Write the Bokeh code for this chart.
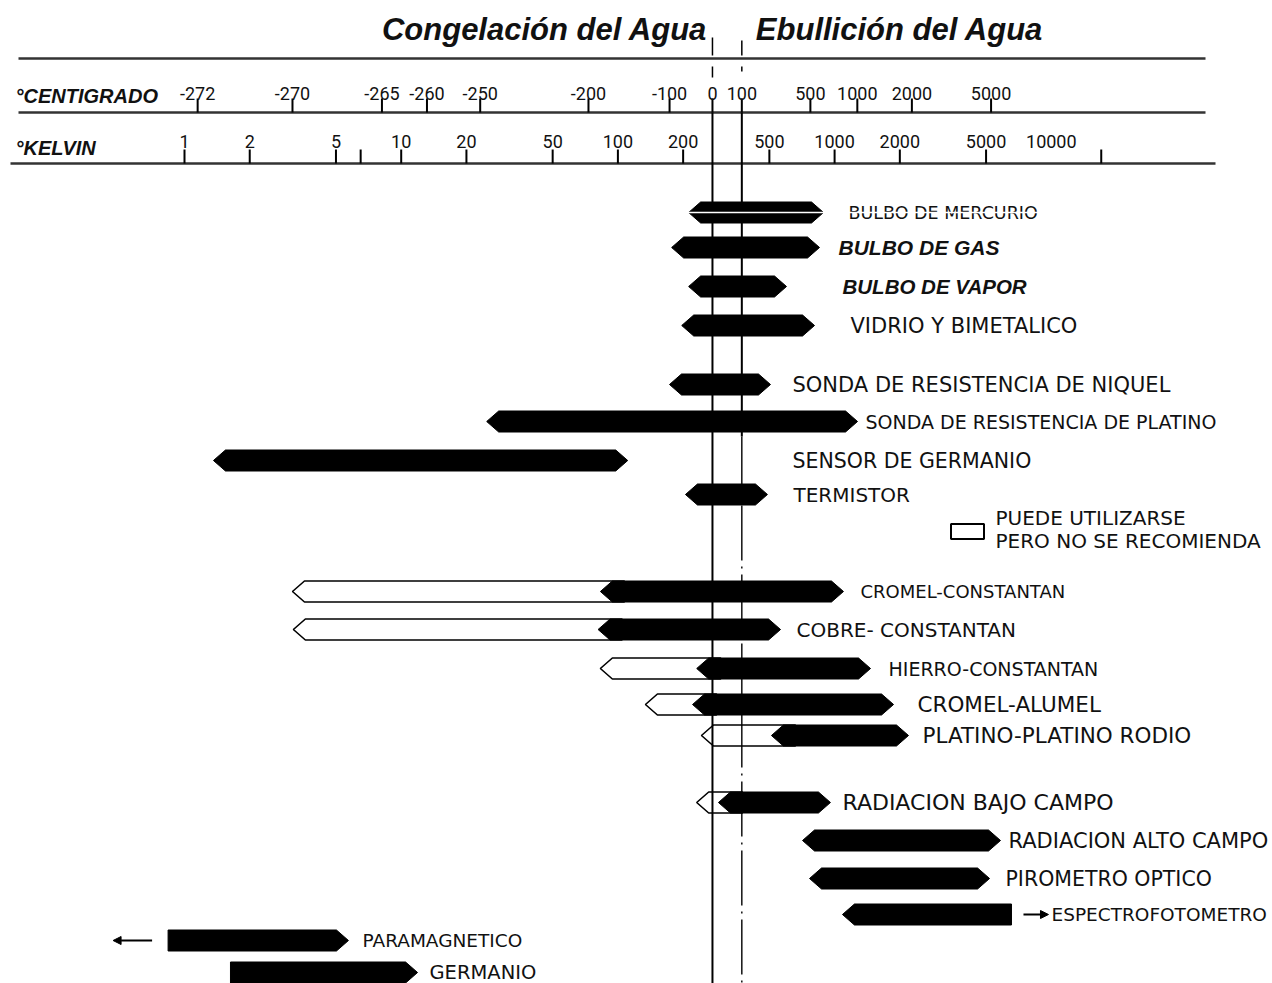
import math
from bokeh.plotting import figure
from bokeh.models import Range1d, Arrow, NormalHead, ColumnDataSource
from bokeh.core.properties import value
from bokeh.embed import file_html
from bokeh.resources import INLINE

# ---------------- data ----------------
titles = ["Congelación del Agua", "Ebullición del Agua"]
scale_names = ["°CENTIGRADO", "°KELVIN"]

ABS_ZERO = 273.15
freezing_C = 0
boiling_C = 100

celsius_ticks = [-272, -270, -265, -260, -250, -200, -100, 0, 100, 500, 1000, 2000, 5000]
kelvin_ticks = [1, 2, 5, 6.5, 10, 20, 50, 100, 200, 500, 1000, 2000, 5000, 17000]
kelvin_labels = [1, 2, 5, 10, 20, 50, 100, 200, 500, 1000, 2000, 5000, 10000]

instruments = [
    "BULBO DE MERCURIO", "BULBO DE GAS", "BULBO DE VAPOR", "VIDRIO Y BIMETALICO",
    "SONDA DE RESISTENCIA DE NIQUEL", "SONDA DE RESISTENCIA DE PLATINO",
    "SENSOR DE GERMANIO", "TERMISTOR",
    "CROMEL-CONSTANTAN", "COBRE- CONSTANTAN", "HIERRO-CONSTANTAN", "CROMEL-ALUMEL",
    "PLATINO-PLATINO RODIO",
    "RADIACION BAJO CAMPO", "RADIACION ALTO CAMPO", "PIROMETRO OPTICO", "ESPECTROFOTOMETRO",
    "PARAMAGNETICO", "GERMANIO",
]
# recommended range (black), Kelvin
rec_low_K = [212, 177, 212, 197, 173, 24.8, 1.36, 205, 83, 81, 231, 221, 511, 291, 711, 766, 1087, 0.84, 1.63]
rec_high_K = [889, 852, 600, 808, 506, 1276, 111, 490, 1099, 563, 1465, 1871, 2193, 957, 5830, 5190, 6550, 5.71, 11.9]
# usable but not recommended (hollow) lower limit, Kelvin
usable_low_K = [None, None, None, None, None, None, None, None,
                3.15, 3.18, 83, 134, 243, 231, None, None, None, None, None]
legend_text = ["PUEDE UTILIZARSE", "PERO NO SE RECOMIENDA"]

# ---------------- layout / style ----------------
PX0, PX_DEC = 184.0, 216.7          # reference pixel of 1 K, pixels per decade
W, HT = 1272, 983


def kx(px):
    return 10 ** ((px - PX0) / PX_DEC)


def shift(k, dpx):
    return k * 10 ** (dpx / PX_DEC)


row_y = [212, 247, 286, 325, 384, 421, 460, 494, 591, 629, 668, 704, 735,
         802, 840, 878, 914, 940, 972]
label_px = [848, 838, 842, 850, 792, 865, 792, 793, 860, 796, 888, 917, 922,
            842, 1008, 1005, 1051, 362, 429]
label_size = [17.5, 21, 20.5, 21, 21, 19, 20.5, 20, 18, 20, 19, 21.5, 21.5,
              22, 21, 20.5, 18.5, 18.5, 19.5]
label_bold = [False, True, True] + [False] * 16
bar_shape = ["<>"] * 16 + ["<]", "[>", "[>"]
TIP = 12
H = 10.5
DIN = "DejaVu Sans"
HELV = "Liberation Sans"
NUM = "Roboto"

p = figure(width=W, height=HT, x_axis_type="log",
           x_range=Range1d(kx(0), kx(W)), y_range=Range1d(HT, 0),
           x_axis_location=None, y_axis_location=None,
           output_backend="svg", toolbar_location=None, min_border=0)
p.grid.visible = False
p.outline_line_color = None
p.background_fill_color = "white"
p.border_fill_color = "white"

# titles
freeze_K = freezing_C + ABS_ZERO
boil_K = boiling_C + ABS_ZERO
p.text(x=[shift(freeze_K, -5)], y=[29], text=[titles[0]], text_align="right",
       text_baseline="middle", text_font=value(HELV), text_font_style="bold italic",
       text_font_size=value("31px"), text_color="#111111")
p.text(x=[shift(boil_K, 14)], y=[29], text=[titles[1]], text_align="left",
       text_baseline="middle", text_font=value(HELV), text_font_style="bold italic",
       text_font_size=value("31px"), text_color="#111111")

# scale header lines
p.segment(x0=[kx(18), kx(18), kx(10)], y0=[58, 112, 163],
          x1=[kx(1205), kx(1205), kx(1215)], y1=[58, 112, 163],
          line_width=2.5, line_color="#333333")

# scale names
p.text(x=[kx(15), kx(15)], y=[95, 147], text=scale_names, text_align="left",
       text_baseline="middle", text_font=value(HELV), text_font_style="bold italic",
       text_font_size=value("20px"), text_color="#111111")

# celsius ticks
ck = [c + ABS_ZERO for c in celsius_ticks]
p.segment(x0=ck, y0=[112] * len(ck), x1=ck, y1=[98] * len(ck), line_width=2, line_color="black")
p.text(x=ck, y=[93] * len(ck), text=[str(c) for c in celsius_ticks], text_align="center",
       text_baseline="middle", text_font=value(NUM), text_font_size=value("18px"),
       text_color="#111111")

# kelvin ticks
p.segment(x0=kelvin_ticks, y0=[163] * len(kelvin_ticks), x1=kelvin_ticks,
          y1=[149] * len(kelvin_ticks), line_width=2, line_color="black")
p.text(x=kelvin_labels, y=[141] * len(kelvin_labels), text=[str(k) for k in kelvin_labels],
       text_align="center", text_baseline="middle", text_font=value(NUM),
       text_font_size=value("18px"), text_color="#111111")

# water reference lines
p.segment(x0=[freeze_K, freeze_K], y0=[37, 66], x1=[freeze_K, freeze_K], y1=[55, 77],
          line_width=1.5, line_color="black")
p.segment(x0=[boil_K, boil_K], y0=[40, 66], x1=[boil_K, boil_K], y1=[55, 71],
          line_width=1.5, line_color="black")
p.line(x=[freeze_K, freeze_K], y=[112, HT], line_width=2, line_color="black")
p.line(x=[boil_K, boil_K], y=[112, 436], line_width=2, line_color="black")
p.line(x=[boil_K, boil_K], y=[436, HT], line_width=1.4, line_color="black",
       line_dash="55 6 2 6")

# hollow (usable) bars
hx, hy = [], []
for i, u in enumerate(usable_low_K):
    if u is None:
        continue
    y = row_y[i]
    hi = shift(rec_low_K[i], 2 * TIP)
    hx.append([u, shift(u, TIP), hi, hi, shift(u, TIP)])
    hy.append([y, y - H, y - H, y + H, y + H])
p.patches(hx, hy, fill_color=None, line_color="black", line_width=1.6)


def bar(lo, hi, y, shape):
    xs, ys = [], []
    if shape[0] == "<":
        xs += [lo, shift(lo, TIP)]
        ys += [y, y - H]
    else:
        xs += [lo, lo]
        ys += [y + H, y - H]
    if shape[1] == ">":
        xs += [shift(hi, -TIP), hi, shift(hi, -TIP)]
        ys += [y - H, y, y + H]
    else:
        xs += [hi, hi]
        ys += [y - H, y + H]
    if shape[0] == "<":
        xs += [shift(lo, TIP)]
        ys += [y + H]
    return xs, ys


bx, by = [], []
for i in range(len(instruments)):
    xs, ys = bar(rec_low_K[i], rec_high_K[i], row_y[i], bar_shape[i])
    bx.append(xs)
    by.append(ys)
p.patches(bx, by, fill_color="black", line_color="black", line_width=1)

# arrows for ranges extending beyond
head = dict(size=8, fill_color="black", line_color="black")
p.add_layout(Arrow(end=NormalHead(**head), x_start=shift(rec_high_K[16], 12), y_start=row_y[16],
                   x_end=shift(rec_high_K[16], 37), y_end=row_y[16], line_width=2,
                   line_color="black"))
p.add_layout(Arrow(end=NormalHead(**head), x_start=shift(rec_low_K[17], -16), y_start=row_y[17],
                   x_end=shift(rec_low_K[17], -55), y_end=row_y[17], line_width=2,
                   line_color="black"))

# labels
for bold in (False, True):
    idx = [i for i in range(len(instruments)) if label_bold[i] == bold]
    src = ColumnDataSource(dict(
        x=[kx(label_px[i]) for i in idx],
        y=[row_y[i] for i in idx],
        t=[instruments[i] for i in idx],
        s=["%gpx" % label_size[i] for i in idx],
    ))
    p.text(x="x", y="y", text="t", source=src, text_align="left", text_baseline="middle",
           text_font=value(HELV if bold else DIN),
           text_font_style="bold italic" if bold else "normal",
           text_font_size="s", text_color="#111111")

# scan streak across the mercury row
p.segment(x0=[shift(rec_low_K[0], -2)], y0=[row_y[0]], x1=[kx(1045)], y1=[row_y[0]],
          line_color="white", line_width=1.3)

# legend
p.rect(x=[kx(967)], y=[531], width=33, height=15, width_units="screen", height_units="screen",
       fill_color="white", line_color="black", line_width=2)
p.text(x=[kx(995), kx(995)], y=[517, 540], text=legend_text, text_align="left",
       text_baseline="middle", text_font=value(DIN), text_font_size=value("20px"),
       text_color="#111111")

open("out.html", "w").write(file_html(p, INLINE))
